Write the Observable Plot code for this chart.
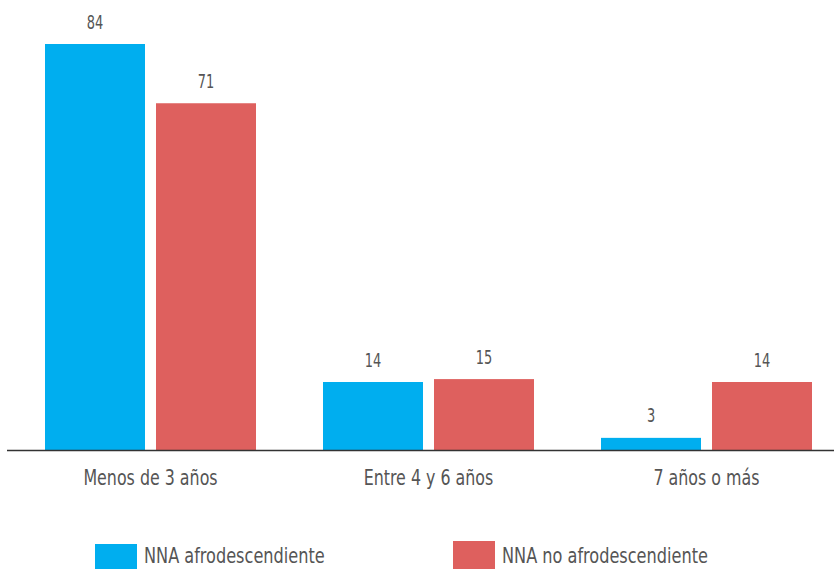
<!DOCTYPE html>
<html><head><meta charset="utf-8">
<script src="https://cdn.jsdelivr.net/npm/d3@7"></script>
<script src="https://cdn.jsdelivr.net/npm/@observablehq/plot@0.6"></script>
<style>
html,body{margin:0;padding:0;background:#fff;}
body{width:834px;height:569px;overflow:hidden;position:relative;font-family:"DejaVu Sans Condensed","Liberation Sans Narrow",sans-serif;}
#legend{position:absolute;left:0;top:0;width:834px;height:569px;pointer-events:none;}
.item{position:absolute;display:flex;align-items:flex-start;font-size:22px;line-height:18px;color:#555;white-space:nowrap;}
.sw{width:42px;height:28px;margin-right:7px;flex:none;}
.item span{display:inline-block;transform:scaleX(0.815);transform-origin:left top;}
</style>
</head><body>
<div id="chart"></div>
<div id="legend"></div>
<script>
const categories = ["Menos de 3 años", "Entre 4 y 6 años", "7 años o más"];
const seriesNames = ["NNA afrodescendiente", "NNA no afrodescendiente"];
const afro = [83.6, 14.0, 2.5];
const noAfro = [71.4, 14.6, 14.0];
const colors = ["#00AEEF", "#DE605E"];

const rows = [];
categories.forEach((c, i) => {
  rows.push({cat: c, serie: seriesNames[0], value: afro[i]});
  rows.push({cat: c, serie: seriesNames[1], value: noAfro[i]});
});
const A = rows.filter(d => d.serie === seriesNames[0]);
const B = rows.filter(d => d.serie === seriesNames[1]);

const font = '"DejaVu Sans Condensed","Liberation Sans Narrow",sans-serif';
const plot = Plot.plot({
  width: 834,
  height: 500,
  marginTop: 44,
  marginBottom: 50,
  marginLeft: 7,
  marginRight: 0,
  style: {fontFamily: font, fontSize: "21px", color: "#555", background: "#fff"},
  x: {domain: categories, range: [10.5, 844.5], padding: 0, label: null, tickSize: 0, tickPadding: 20},
  y: {domain: [0, d3.max(afro.concat(noAfro))], axis: null},
  marks: [
    Plot.barY(A, {x: "cat", y: "value", fill: colors[0], insetLeft: 34, insetRight: 144}),
    Plot.barY(B, {x: "cat", y: "value", fill: colors[1], insetLeft: 145, insetRight: 33}),
    Plot.text(A, {x: "cat", y: "value", text: d => String(Math.round(d.value)), dx: -55.5, dy: -16, lineAnchor: "bottom", fill: "#555", fontSize: 20, className: "vlab"}),
    Plot.text(B, {x: "cat", y: "value", text: d => String(Math.round(d.value)), dx: 55.5, dy: -16, lineAnchor: "bottom", fill: "#555", fontSize: 20, className: "vlab"}),
    Plot.ruleY([0], {stroke: "#333", strokeWidth: 1.6})
  ]
});
document.getElementById("chart").appendChild(plot);

// condense text horizontally around its anchor
function condense(sel, s) {
  sel.each(function() {
    const t = d3.select(this);
    const cx = parseFloat(t.attr("x")) || 0;
    const tr = t.attr("transform") || "";
    t.attr("transform", `${tr} translate(${cx},0) scale(${s},1) translate(${-cx},0)`);
  });
}
const svg = d3.select(plot);
condense(svg.selectAll(".vlab text"), 0.72);
condense(svg.selectAll("text").filter(function() { return !this.closest(".vlab"); }), 0.84);

const legend = document.getElementById("legend");
const pos = [{left: 95, top: 544, tm: 3}, {left: 453, top: 541, tm: 6}];
seriesNames.forEach((s, i) => {
  const it = document.createElement("div");
  it.className = "item";
  it.style.left = pos[i].left + "px";
  it.style.top = pos[i].top + "px";
  const sw = document.createElement("div");
  sw.className = "sw";
  sw.style.background = colors[i];
  const tx = document.createElement("span");
  tx.textContent = s;
  tx.style.marginTop = pos[i].tm + "px";
  it.appendChild(sw); it.appendChild(tx);
  legend.appendChild(it);
});
</script>
</body></html>
